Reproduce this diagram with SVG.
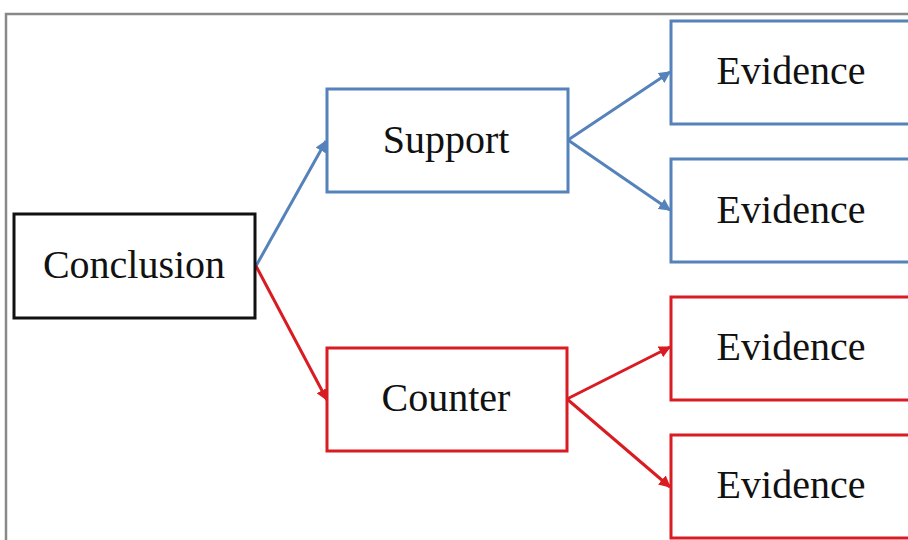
<svg xmlns="http://www.w3.org/2000/svg" width="908" height="540" viewBox="0 0 908 540">
<defs>
<style>
.box{fill:#fff;stroke-width:3}
.k{stroke:#111}
.b{stroke:#5582bb}
.r{stroke:#d91b22}
.t{font-family:"Liberation Serif","Times New Roman",serif;font-size:40px;fill:#111;text-anchor:middle}
.cb{stroke:#5582bb;stroke-width:3;fill:none}
.cr{stroke:#d91b22;stroke-width:3;fill:none}
</style>
<marker id="ab" viewBox="0 0 10 10" refX="9" refY="5" markerWidth="4" markerHeight="4" orient="auto" markerUnits="strokeWidth"><path d="M0,0L10,5L0,10z" fill="#5582bb"/></marker>
<marker id="ar" viewBox="0 0 10 10" refX="9" refY="5" markerWidth="4" markerHeight="4" orient="auto" markerUnits="strokeWidth"><path d="M0,0L10,5L0,10z" fill="#d91b22"/></marker>
</defs>
<rect x="0" y="0" width="908" height="540" fill="#fff"/>
<path d="M6,541V14H910" fill="none" stroke="#888" stroke-width="2.5"/>
<g id="connectors">
<line class="cb" x1="256" y1="266" x2="326" y2="141" marker-end="url(#ab)"/>
<line class="cr" x1="256" y1="266" x2="327" y2="400" marker-end="url(#ar)"/>
<line class="cb" x1="568" y1="140" x2="670" y2="72" marker-end="url(#ab)"/>
<line class="cb" x1="568" y1="140" x2="670" y2="210" marker-end="url(#ab)"/>
<line class="cr" x1="567" y1="399" x2="670" y2="347" marker-end="url(#ar)"/>
<line class="cr" x1="567" y1="399" x2="670" y2="487" marker-end="url(#ar)"/>
</g>
<g id="conclusion"><rect class="box k" x="14" y="214" width="241" height="104"/><text class="t" x="134" y="278">Conclusion</text></g>
<g id="support"><rect class="box b" x="327" y="89" width="241" height="103"/><text class="t" x="446" y="153">Support</text></g>
<g id="counter"><rect class="box r" x="327" y="348" width="240" height="103"/><text class="t" x="446" y="411">Counter</text></g>
<g id="evidence1"><rect class="box b" x="671" y="21" width="250" height="103"/><text class="t" x="791" y="84">Evidence</text></g>
<g id="evidence2"><rect class="box b" x="671" y="159" width="250" height="103"/><text class="t" x="791" y="223">Evidence</text></g>
<g id="evidence3"><rect class="box r" x="671" y="297" width="250" height="103"/><text class="t" x="791" y="360">Evidence</text></g>
<g id="evidence4"><rect class="box r" x="671" y="435" width="250" height="103"/><text class="t" x="791" y="498">Evidence</text></g>
</svg>
